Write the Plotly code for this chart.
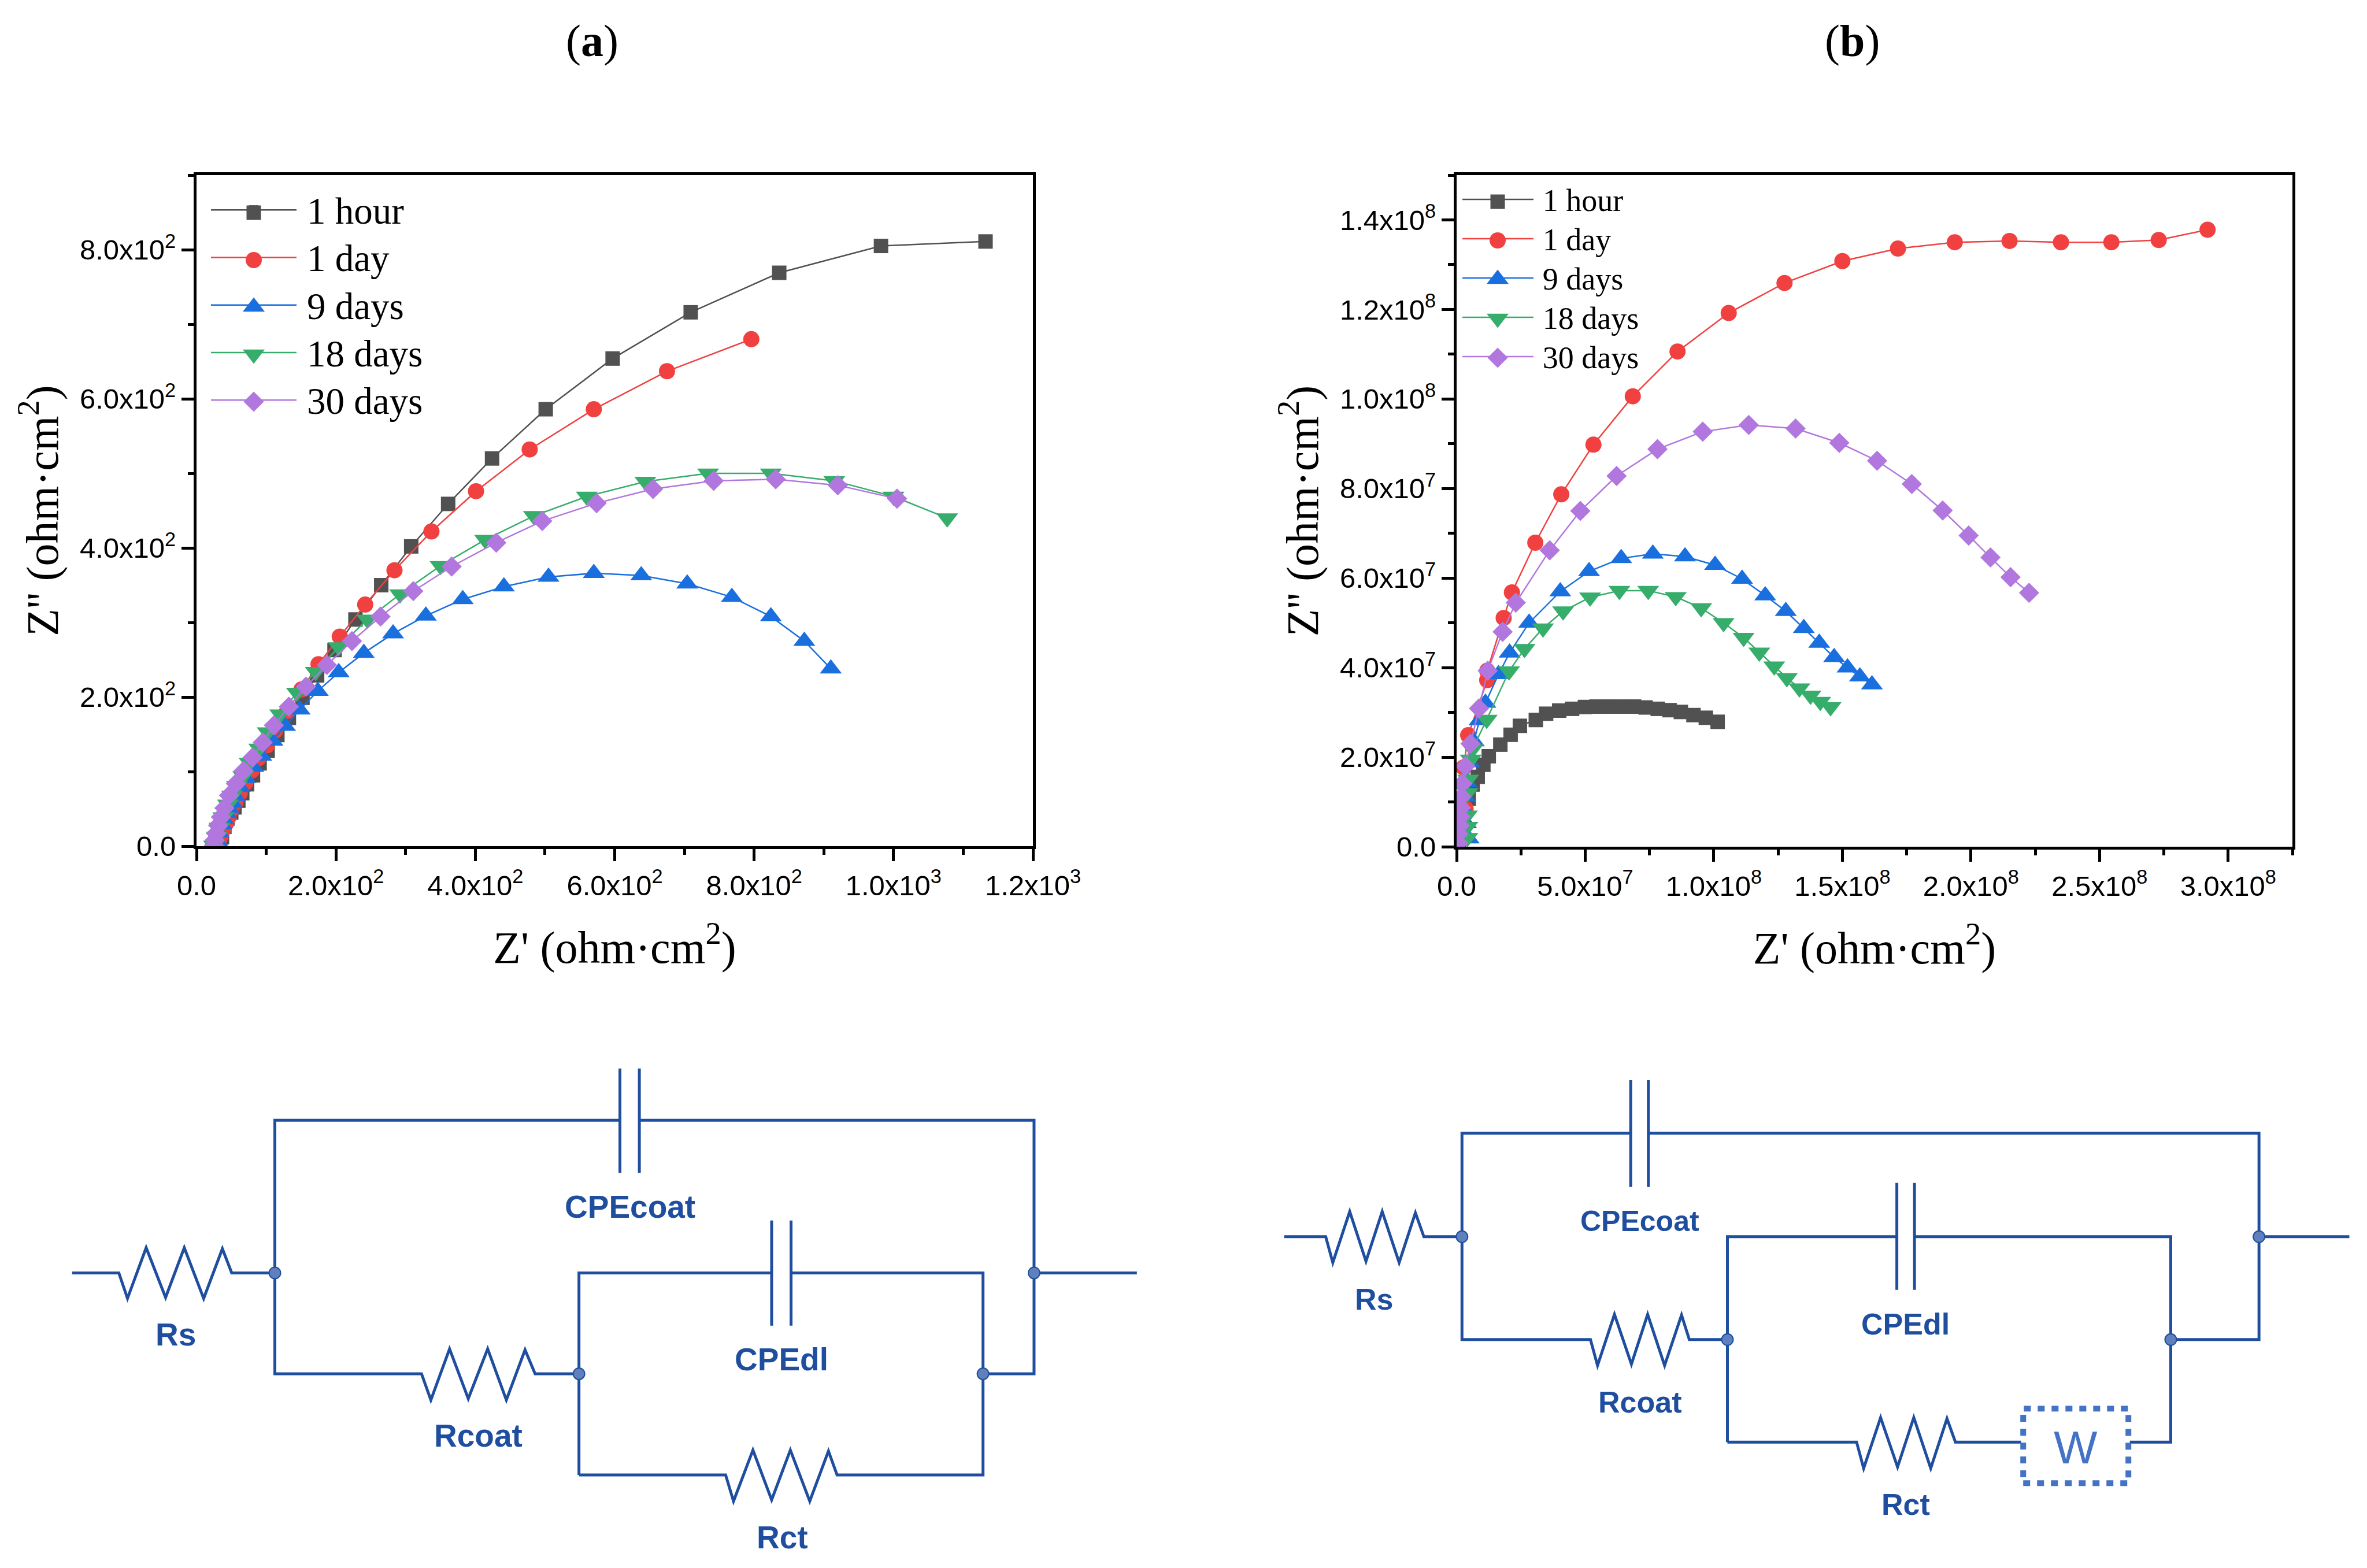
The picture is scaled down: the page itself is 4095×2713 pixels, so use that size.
import plotly.graph_objects as go

W, H = 4095, 2713
SERIES = ["1 hour", "1 day", "9 days", "18 days", "30 days"]
COLORS = ["#515151", "#F14040", "#1A6FDF", "#37AD6B", "#B177DE"]
SYMBOLS = ["square", "circle", "triangle-up", "triangle-down", "diamond"]
SIZES = [25, 28, 33, 33, 27]

# Panel (a): ohm cm2
a_1h_x = [1132, 982, 836, 709, 597, 501, 424, 361, 308, 265, 228, 198, 173, 152, 132.5, 116, 102, 90.5, 81, 72.5, 65.6, 60, 54.5, 49.8, 44.3, 40, 36.5, 34]
a_1h_y = [811, 805, 769, 716, 654, 586, 520, 459, 402, 350, 304, 263, 229, 199, 172, 149, 128, 111, 95, 83, 71, 61, 52, 45, 37, 26, 12, 3]
a_1d_x = [796, 675, 570, 478, 401, 337, 284, 242, 205.5, 175, 150.5, 130, 113, 101, 89, 79, 70, 62, 56, 50, 46, 42, 38, 35, 32, 30]
a_1d_y = [680, 637, 586, 532, 476, 422, 370, 324, 281, 244, 210, 181, 155, 135, 118, 101, 85, 71, 59, 49, 39, 30, 22, 14, 7, 1]
a_9d_x = [910, 872, 824, 768, 704, 638, 570, 505, 441, 382, 329, 282, 240, 204, 174, 148, 127, 109, 93, 81.4, 70, 62, 55, 51, 46.7, 42.6, 38.5, 35.7, 31.5, 28.8, 26]
a_9d_y = [238, 275, 308, 334, 352, 363, 366, 361, 348, 331, 309, 285, 259, 233, 208, 183, 161, 141, 121, 106, 91, 79, 67, 58, 51, 44, 36, 29, 18, 8, 1]
a_18d_x = [1077, 1000, 915, 824, 734, 644, 560, 484, 414, 350, 292, 245, 204, 171, 144, 120, 102, 90, 76, 67, 58, 51, 45, 38.5, 33, 29, 25]
a_18d_y = [440, 469, 490, 500, 500, 489, 469, 443, 411, 376, 338, 304, 267, 234, 206, 177, 153, 131, 112, 94, 81, 68, 56, 39, 25, 13, 1]
a_30d_x = [1005, 920, 831, 742, 655, 574, 496, 430, 366, 311, 264, 223, 187, 157, 132.5, 111, 95, 80.5, 67.5, 56.5, 46.7, 40, 35, 31, 28, 26, 25]
a_30d_y = [466, 484, 492, 490, 479, 460, 436, 407, 375, 342, 308, 275, 243, 214, 187, 162, 139, 119, 101, 84, 68, 51, 39, 28, 17, 8, 1]

# Panel (b): units of 1e7 ohm cm2
UNIT_B = 1e7
b_1h_x = [10.15, 9.69, 9.21, 8.72, 8.28, 7.82, 7.35, 6.9, 6.4, 5.91, 5.44, 4.99, 4.49, 3.99, 3.48, 3.08, 2.46, 2.1, 1.7, 1.25, 1.04, 0.82, 0.62, 0.47, 0.27, 0.17, 0.09]
b_1h_y = [2.79, 2.88, 2.94, 3.01, 3.05, 3.08, 3.11, 3.13, 3.13, 3.13, 3.13, 3.12, 3.08, 3.04, 2.97, 2.83, 2.7, 2.5, 2.28, 2.02, 1.83, 1.56, 1.39, 1.07, 0.72, 0.38, 0.13]
b_1d_x = [29.2, 27.3, 25.46, 23.5, 21.5, 19.37, 17.16, 15.0, 12.75, 10.58, 8.59, 6.85, 5.32, 4.07, 3.06, 2.15, 1.83, 1.19, 1.19, 0.45, 0.27, 0.35, 0.18]
b_1d_y = [13.78, 13.55, 13.5, 13.5, 13.53, 13.5, 13.36, 13.08, 12.59, 11.92, 11.06, 10.06, 8.98, 7.87, 6.79, 5.68, 5.11, 3.93, 3.72, 2.49, 1.77, 0.85, 0.41]
b_9d_x = [16.15, 15.68, 15.2, 14.68, 14.1, 13.5, 12.8, 12.0, 11.1, 10.05, 8.88, 7.63, 6.4, 5.15, 4.03, 2.82, 2.06, 1.63, 1.12, 0.89, 0.67, 0.49, 0.39, 0.32, 0.27, 0.37, 0.47]
b_9d_y = [3.62, 3.80, 4.0, 4.23, 4.55, 4.88, 5.26, 5.61, 5.98, 6.29, 6.48, 6.54, 6.44, 6.15, 5.7, 5.0, 4.33, 3.85, 3.21, 2.82, 2.35, 1.88, 1.44, 1.12, 0.82, 0.52, 0.18]
b_18d_x = [14.54, 14.14, 13.76, 13.33, 12.84, 12.35, 11.77, 11.16, 10.38, 9.51, 8.52, 7.45, 6.33, 5.19, 4.14, 3.36, 2.64, 2.04, 1.17, 0.62, 0.55, 0.45, 0.42, 0.4, 0.42, 0.42]
b_18d_y = [3.12, 3.24, 3.38, 3.54, 3.77, 4.03, 4.34, 4.67, 5.0, 5.33, 5.58, 5.72, 5.72, 5.57, 5.26, 4.88, 4.42, 3.92, 2.84, 2.18, 1.95, 1.5, 1.2, 0.7, 0.45, 0.2]
b_30d_x = [22.26, 21.54, 20.76, 19.91, 18.9, 17.7, 16.35, 14.88, 13.18, 11.36, 9.57, 7.81, 6.22, 4.81, 3.62, 2.3, 1.79, 1.21, 0.87, 0.54, 0.34, 0.22, 0.19, 0.17, 0.15, 0.12, 0.07, 0.07]
b_30d_y = [5.67, 6.02, 6.46, 6.95, 7.51, 8.1, 8.62, 9.02, 9.34, 9.42, 9.27, 8.88, 8.28, 7.5, 6.62, 5.45, 4.8, 3.93, 3.09, 2.3, 1.8, 1.41, 1.12, 0.87, 0.67, 0.47, 0.28, 0.08]

A_X_TICKS = [0, 200, 400, 600, 800, 1000, 1200]
A_X_TEXT = ["0.0", "2.0x10<sup>2</sup>", "4.0x10<sup>2</sup>", "6.0x10<sup>2</sup>", "8.0x10<sup>2</sup>", "1.0x10<sup>3</sup>", "1.2x10<sup>3</sup>"]
A_Y_TICKS = [0, 200, 400, 600, 800]
A_Y_TEXT = ["0.0", "2.0x10<sup>2</sup>", "4.0x10<sup>2</sup>", "6.0x10<sup>2</sup>", "8.0x10<sup>2</sup>"]
B_X_TICKS = [0, 5e7, 1e8, 1.5e8, 2e8, 2.5e8, 3e8]
B_X_TEXT = ["0.0", "5.0x10<sup>7</sup>", "1.0x10<sup>8</sup>", "1.5x10<sup>8</sup>", "2.0x10<sup>8</sup>", "2.5x10<sup>8</sup>", "3.0x10<sup>8</sup>"]
B_Y_TICKS = [0, 2e7, 4e7, 6e7, 8e7, 1e8, 1.2e8, 1.4e8]
B_Y_TEXT = ["0.0", "2.0x10<sup>7</sup>", "4.0x10<sup>7</sup>", "6.0x10<sup>7</sup>", "8.0x10<sup>7</sup>", "1.0x10<sup>8</sup>", "1.2x10<sup>8</sup>", "1.4x10<sup>8</sup>"]
X_TITLE = "Z' (ohm·cm<sup>2</sup>)"
Y_TITLE = "Z'' (ohm·cm<sup>2</sup>)"

SERIF = "Liberation Serif"
SANS = "Liberation Sans"
BLUE = "#1F4E9F"
NODE = "#5F80BC"
WBLUE = "#4472C4"

# Pixel position of the legend keys (Plotly caps native legend markers at 16 px)
KEY_A_X = 439
KEY_A_Y = [368, 450, 531, 613, 695]
KEY_B_X = 2591
KEY_B_Y = [349, 416, 483, 551, 619]

px = lambda x: x / W
py = lambda y: 1 - y / H

fig = go.Figure()

panel_a = [(a_1h_x, a_1h_y), (a_1d_x, a_1d_y), (a_9d_x, a_9d_y), (a_18d_x, a_18d_y), (a_30d_x, a_30d_y)]
panel_b = [(b_1h_x, b_1h_y), (b_1d_x, b_1d_y), (b_9d_x, b_9d_y), (b_18d_x, b_18d_y), (b_30d_x, b_30d_y)]

for i, (xs, ys) in enumerate(panel_a):
    fig.add_trace(go.Scatter(x=xs, y=ys, name=f'<span style="font-size:65px">\u2009{SERIES[i]}</span>',
                             mode="lines+markers", xaxis="x", yaxis="y",
                             line=dict(color=COLORS[i], width=2.5),
                             marker=dict(symbol=SYMBOLS[i], size=SIZES[i], color=COLORS[i]),
                             legend="legend"))
for i, (xs, ys) in enumerate(panel_b):
    fig.add_trace(go.Scatter(x=[v * UNIT_B for v in xs], y=[v * UNIT_B for v in ys],
                             name=f'<span style="font-size:54px">\u2009{SERIES[i]}</span>',
                             mode="lines+markers", xaxis="x2", yaxis="y2",
                             line=dict(color=COLORS[i], width=2.5),
                             marker=dict(symbol=SYMBOLS[i], size=SIZES[i], color=COLORS[i]),
                             legend="legend2"))
for key_x, key_y in [(KEY_A_X, KEY_A_Y), (KEY_B_X, KEY_B_Y)]:
    for i in range(5):
        fig.add_trace(go.Scatter(x=[key_x], y=[key_y[i]], mode="markers", xaxis="x3", yaxis="y3", showlegend=False,
                                 hoverinfo="skip",
                                 marker=dict(symbol=SYMBOLS[i], size=SIZES[i], color=COLORS[i])))


def axis(domain, rng, ticks, text, minor, title, anchor, standoff):
    return dict(domain=domain, range=rng, anchor=anchor, tickmode="array", tickvals=ticks, ticktext=text,
                ticks="outside", ticklen=21, tickwidth=5, tickcolor="black",
                showline=True, linewidth=5, linecolor="black", mirror=True,
                showgrid=False, zeroline=False, automargin=False,
                tickfont=dict(family=SANS, size=49, color="black"),
                minor=dict(ticks="outside", ticklen=10, tickwidth=5, tickcolor="black", tickmode="linear",
                           tick0=0, dtick=minor, showgrid=False),
                title=dict(text=title, font=dict(family=SERIF, size=78, color="black"), standoff=standoff))


shapes = []
annotations = []


def seg(pts, color=BLUE, width=5):
    path = "M " + " L ".join(f"{px(x):.5f},{py(y):.5f}" for x, y in pts)
    shapes.append(dict(type="path", xref="paper", yref="paper", path=path,
                       line=dict(color=color, width=width), fillcolor="rgba(0,0,0,0)"))


def node(x, y, r=10):
    shapes.append(dict(type="circle", xref="paper", yref="paper", x0=px(x - r), x1=px(x + r), y0=py(y + r), y1=py(y - r),
                       fillcolor=NODE, line=dict(color=BLUE, width=2)))


def label(txt, x, y, size, bold=True, color=BLUE, family=SANS):
    annotations.append(dict(text=f"<b>{txt}</b>" if bold else txt, x=px(x), y=py(y), xref="paper", yref="paper",
                            xanchor="center", yanchor="middle", showarrow=False,
                            font=dict(family=family, size=size, color=color)))


# Circuit (a)
Ca = lambda cx, cy: (80 + cx / 0.804, 1800 + cy / 1.742)
seg([Ca(*p) for p in [(318, 701), (318, 241), (798, 241)]])
seg([Ca(*p) for p in [(825, 241), (1374, 241), (1374, 1005), (1303, 1005)]])
seg([Ca(*p) for p in [(798, 85), (798, 400)]])
seg([Ca(*p) for p in [(825, 85), (825, 400)]])
seg([Ca(*p) for p in [(36, 701), (101, 701), (113, 778), (139, 625), (166, 775), (192, 625), (219, 778), (245, 628), (258, 701), (318, 701), (318, 1005), (522, 1005), (535, 1084), (561, 930), (587, 1080), (614, 930), (640, 1084), (666, 933), (680, 1005), (741, 1005)]])
seg([Ca(*p) for p in [(1374, 701), (1517, 701)]])
seg([Ca(*p) for p in [(741, 1310), (741, 701), (1009, 701)]])
seg([Ca(*p) for p in [(1036, 701), (1303, 701), (1303, 1310), (1100, 1310), (1088, 1238), (1062, 1389), (1035, 1235), (1009, 1385), (983, 1235), (956, 1389), (945, 1310), (741, 1310)]])
seg([Ca(*p) for p in [(1009, 543), (1009, 860)]])
seg([Ca(*p) for p in [(1036, 543), (1036, 860)]])
for p in [(318, 701), (1374, 701), (741, 1005), (1303, 1005)]:
    node(*Ca(*p))
label("CPEcoat", *Ca(812, 502), 55)
label("Rs", *Ca(180, 887), 55)
label("Rcoat", *Ca(601, 1192), 55)
label("CPEdl", *Ca(1023, 962), 55)
label("Rct", *Ca(1024, 1498), 55)

# Circuit (b)
Cb = lambda cx, cy: (2180 + cx / 0.8188, 1800 + cy / 1.742)
seg([Cb(*p) for p in [(286, 592), (286, 280), (525, 280)]])
seg([Cb(*p) for p in [(550, 280), (1415, 280), (1415, 902), (1290, 902)]])
seg([Cb(*p) for p in [(525, 120), (525, 442)]])
seg([Cb(*p) for p in [(550, 120), (550, 442)]])
seg([Cb(*p) for p in [(34, 592), (93, 592), (103, 670), (127, 516), (150, 666), (173, 516), (197, 670), (220, 520), (232, 592), (286, 592), (286, 902), (468, 902), (478, 980), (502, 826), (526, 976), (549, 826), (573, 980), (597, 828), (608, 902), (662, 902)]])
seg([Cb(*p) for p in [(1415, 592), (1543, 592)]])
seg([Cb(*p) for p in [(662, 1211), (662, 592), (902, 592)]])
seg([Cb(*p) for p in [(927, 592), (1290, 592), (1290, 1211), (1232, 1211)]])
seg([Cb(*p) for p in [(662, 1211), (845, 1211), (855, 1290), (879, 1137), (903, 1286), (926, 1137), (950, 1290), (973, 1140), (985, 1211), (1078, 1211)]])
seg([Cb(*p) for p in [(902, 430), (902, 752)]])
seg([Cb(*p) for p in [(927, 430), (927, 752)]])
for p in [(286, 592), (1415, 592), (662, 902), (1290, 902)]:
    node(*Cb(*p))
bx0, by0 = Cb(1081, 1110)
bx1, by1 = Cb(1230, 1335)
shapes.append(dict(type="rect", xref="paper", yref="paper", x0=px(bx0), x1=px(bx1), y0=py(by1), y1=py(by0),
                   line=dict(color=WBLUE, width=10, dash="12px,12px")))
label("W", *Cb(1155, 1228), 80, bold=False, color=WBLUE)
label("CPEcoat", *Cb(538, 546), 50)
label("Rs", *Cb(161, 781), 52)
label("Rcoat", *Cb(538, 1090), 52)
label("CPEdl", *Cb(914, 856), 52)
label("Rct", *Cb(915, 1398), 52)

# Panel captions
annotations.append(dict(text="(<b>a</b>)", x=px(1024), y=py(70), xref="paper", yref="paper", showarrow=False,
                        xanchor="center", yanchor="middle", font=dict(family=SERIF, size=78, color="black")))
annotations.append(dict(text="(<b>b</b>)", x=px(3204), y=py(70), xref="paper", yref="paper", showarrow=False,
                        xanchor="center", yanchor="middle", font=dict(family=SERIF, size=78, color="black")))

fig.update_layout(
    width=W, height=H, margin=dict(l=0, r=0, t=0, b=0), paper_bgcolor="white", plot_bgcolor="rgba(0,0,0,0)",
    xaxis=axis([px(340), px(1787)], [0, 1200], A_X_TICKS, A_X_TEXT, 100, X_TITLE, "y", 55),
    yaxis=axis([py(1464), py(303)], [0, 900], A_Y_TICKS, A_Y_TEXT, 100, Y_TITLE, "x", 13),
    xaxis2=axis([px(2520), px(3966)], [0, 3.25e8], B_X_TICKS, B_X_TEXT, 2.5e7, X_TITLE, "y2", 55),
    yaxis2=axis([py(1465), py(303)], [0, 1.5e8], B_Y_TICKS, B_Y_TEXT, 1e7, Y_TITLE, "x2", 13),
    xaxis3=dict(domain=[0, 1], range=[0, W], visible=False, anchor="y3"),
    yaxis3=dict(domain=[0, 1], range=[H, 0], visible=False, anchor="x3"),
    legend=dict(x=px(360), y=py(317), xanchor="left", yanchor="top", bgcolor="rgba(0,0,0,0)", borderwidth=0,
                itemwidth=148, font=dict(family=SERIF, size=61, color="black"), traceorder="normal"),
    legend2=dict(x=px(2525), y=py(306), xanchor="left", yanchor="top", bgcolor="rgba(0,0,0,0)", borderwidth=0,
                 itemwidth=123, font=dict(family=SERIF, size=50, color="black"), traceorder="normal"),
    shapes=shapes, annotations=annotations, showlegend=True,
)

fig.write_html("out.html", config={"displayModeBar": False},
               post_script="document.body.style.margin='0';")
